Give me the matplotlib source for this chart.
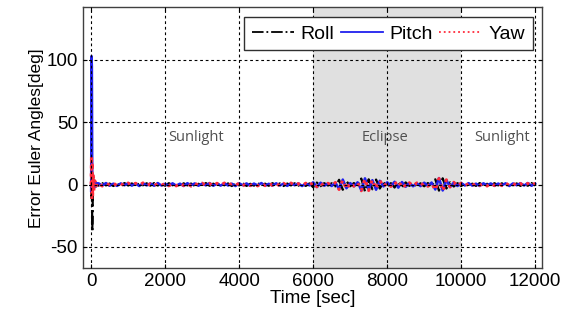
#import some necessary Python modules
import numpy as np
import matplotlib.pyplot as plt

# time samples [sec] : short start-up transient then every 100 sec
t_start = [0, 10, 20, 30, 40, 50, 70, 100, 130, 160]
t_step = 100
t_end = 12000

# Euler angle errors [deg], start-up transient
roll_start = [0, -12, 6, -38, -20, 8, -4, 2.5, -1.5, 1]
pitch_start = [-5, 103, 95, 10, -8, 4, -3, 2, -1.5, 1]
yaw_start = [0, 23, -12, 18, -10, 9, -5, 3, -2, 1.5]

# Euler angle errors [deg], from 200 sec to 12000 sec
roll_err = [-0.9, 1.1, -0.7, 0.8, -1.2, 0.6, -1.0, 1.2, -0.8, 0.9,
            -1.1, 0.7, -0.6, 1.0, -0.9, 1.2, -0.8, 0.7, -1.0, 1.1,
            -0.6, 0.9, -1.2, 1.0, -0.7, 0.8, -1.1, 0.6, -0.9, 1.2,
            -1.0, 0.7, -0.8, 1.1, -0.6, 0.9, -1.2, 0.8, -0.7, 1.0,
            -1.1, 0.6, -0.9, 1.2, -0.8, 0.7, -1.0, 1.1, -0.6, 0.9,
            -1.2, 0.8, -0.7, 1.0, -0.9, 0.6, -1.1, 0.9,
            -2.2, 1.6,
            -1.3, 1.1, -0.8, 1.0, -1.5,
            3.8, -4.2, 2.8,
            -1.4, 1.2, -1.7,
            4.8, -5.5, 4.2,
            -3.8, 4.0, -3.2,
            1.6, -1.4, 1.1,
            -2.4, 2.1, -2.2, 1.7,
            -1.1, 1.3, -1.2, 1.0, -1.4, 1.2, -1.5,
            4.2, -4.9, 5.0, -3.2,
            1.7, -1.6, 1.1,
            -1.2,
            0.9, -1.0, 0.7, -1.1, 1.2, -0.8, 0.6, -0.9, 1.1, -0.7,
            1.0, -1.2, 0.8, -0.6, 0.9, -1.1, 0.7, -1.0, 1.2, -0.8]

pitch_err = [1.0, -0.8, 1.2, -1.0, 0.7, -1.1, 0.9, -0.6, 1.1, -0.9,
             0.8, -1.2, 1.0, -0.7, 0.9, -1.0, 1.2, -0.8, 0.6, -1.1,
             1.0, -0.9, 0.7, -1.2, 1.1, -0.6, 0.9, -1.0, 0.8, -0.7,
             1.2, -1.0, 0.6, -0.9, 1.1, -0.8, 0.7, -1.2, 1.0, -0.6,
             0.9, -1.1, 0.8, -0.7, 1.2, -1.0, 0.6, -0.9, 1.0, -0.8,
             0.7, -1.1, 1.0, -0.6, 0.9, -1.2, 0.8, -0.7,
             1.8, -2.0,
             1.5, -1.0, 0.9, -1.2, 1.4,
             -3.5, 4.0, -3.0,
             1.2, -1.5, 1.8,
             -4.5, 5.0, -4.0,
             3.5, -4.2, 3.0,
             -1.5, 1.8, -1.2,
             2.2, -2.5, 2.0, -1.8,
             1.2, -1.4, 1.0, -1.3, 1.5, -1.1, 1.6,
             -4.0, 5.2, -4.8, 3.5,
             -1.8, 1.5, -1.2,
             1.3,
             -0.8, 1.1, -0.9, 0.7, -1.2, 1.0, -0.6, 0.9, -1.1, 0.8,
             -0.7, 1.0, -1.2, 0.9, -0.6, 1.1, -0.8, 1.2, -1.0, 0.7]

yaw_err = [0.8, -1.2, 1.0, -0.6, 1.1, -0.9, 0.7, -1.1, 1.2, -0.8,
           1.0, -0.7, 1.3, -1.0, 0.6, -1.2, 0.9, -0.8, 1.1, -1.0,
           0.7, -1.1, 1.2, -0.8, 0.9, -1.3, 1.0, -0.7, 1.1, -0.9,
           0.8, -1.2, 1.0, -0.7, 1.2, -1.0, 0.9, -0.6, 1.1, -1.2,
           1.0, -0.8, 0.7, -1.1, 1.2, -0.9, 1.1, -0.7, 0.8, -1.2,
           1.0, -0.9, 1.2, -0.8, 0.7, -1.0, 1.1, -1.2,
           2.0, -1.8,
           1.2, -1.4, 1.0, -0.9, 1.6,
           -4.0, 3.6, -3.8,
           1.5, -1.3, 1.6,
           -5.0, 4.6, -4.8,
           4.0, -3.6, 3.4,
           -1.8, 1.4, -1.5,
           2.5, -2.0, 2.3, -2.1,
           1.4, -1.2, 1.3, -1.1, 1.3, -1.4, 1.2,
           -4.6, 4.8, -5.2, 3.8,
           -2.0, 1.8, -1.4,
           1.1,
           -1.1, 0.8, -1.0, 1.2, -0.7, 0.9, -1.2, 1.0, -0.8, 1.1,
           -0.9, 1.2, -0.7, 1.0, -1.1, 0.8, -1.2, 0.9, -1.0, 1.1]

# phase labels and eclipse window [sec]
phase_names = ['Sunlight', 'Eclipse', 'Sunlight']
phase_x = [2840, 7950, 11100]
phase_y = 38
eclipse_start = 6000
eclipse_end = 10000


# stick the start-up part in front of the regular samples
time = np.concatenate([t_start, np.arange(200, t_end + 1, t_step)])
roll = np.concatenate([roll_start, roll_err])
pitch = np.concatenate([pitch_start, pitch_err])
yaw = np.concatenate([yaw_start, yaw_err])

plt.rcParams['font.family'] = ['Liberation Sans', 'DejaVu Sans']
plt.rcParams['axes.unicode_minus'] = False

fig = plt.figure(figsize=(5.66, 3.23), dpi=100)
ax = fig.add_axes([0.146, 0.170, 0.812, 0.807])

# eclipse region
ax.axvspan(eclipse_start, eclipse_end, color='#e0e0e0', zorder=0, lw=0)

ax.plot(time, roll, color='black', linestyle='-.', lw=1.6, label='Roll')
ax.plot(time, pitch, color='#2020ee', linestyle='-', lw=1.8, label='Pitch')
ax.plot(time, yaw, color='#ff2a3a', linestyle=':', lw=2.2, label='Yaw')

for name, px in zip(phase_names, phase_x):
    ax.text(px, phase_y, name, ha='center', va='center', fontsize=10.5,
            color='#505050', family=['Open Sans', 'DejaVu Sans'])

ax.set_xlim(-230, 12190)
ax.set_ylim(-67, 142)
ax.set_xticks([0, 2000, 4000, 6000, 8000, 10000, 12000])
ax.set_yticks([-50, 0, 50, 100])
ax.tick_params(direction='in', labelsize=13.5, length=3, top=True, right=True)
ax.grid(True, color='black', linestyle=(0, (2.5, 2.5)), lw=0.8)
ax.set_axisbelow(False)
for sp in ax.spines.values():
    sp.set_color('#404040')
    sp.set_linewidth(1.0)

ax.set_xlabel('Time [sec]', fontsize=13.5, labelpad=0)
ax.set_ylabel('Error Euler Angles[deg]', fontsize=12.5, labelpad=2)

leg = ax.legend(loc='upper right', ncol=3, fontsize=14, handlelength=2.2,
                columnspacing=0.35, handletextpad=0.3, borderpad=0.4,
                borderaxespad=0.5, fancybox=False, framealpha=1.0)
leg.get_frame().set_edgecolor('#303030')
leg.get_frame().set_linewidth(1.0)
for line in leg.get_lines():
    line.set_linewidth(1.3)

plt.savefig('out.png', dpi=100)
